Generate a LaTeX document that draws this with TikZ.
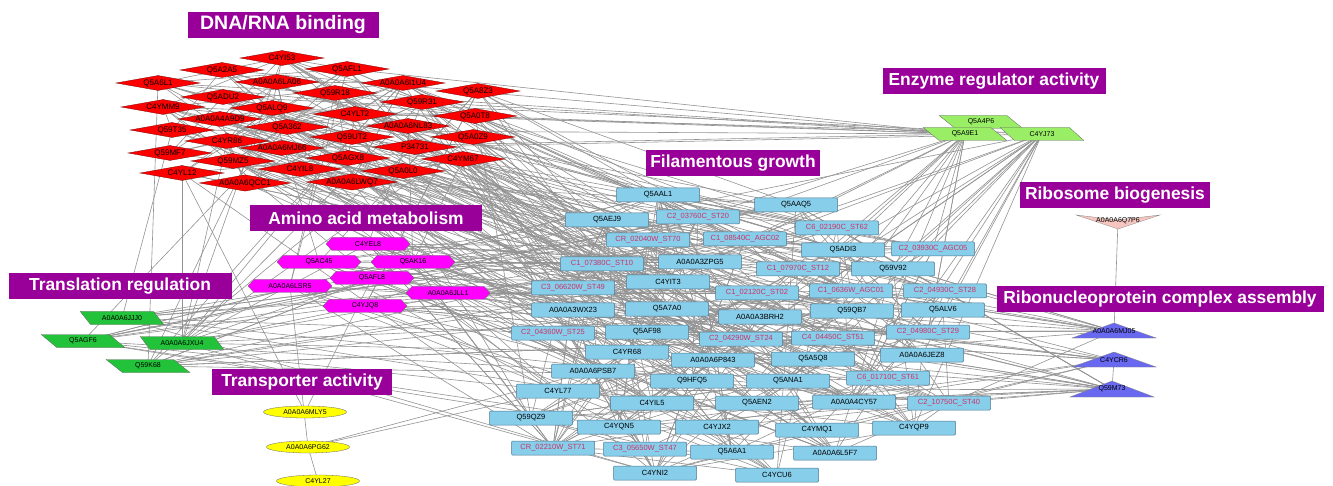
\documentclass[tikz,border=0pt]{standalone}
\usepackage{fontspec}
\setmainfont{Liberation Sans}
\usetikzlibrary{shapes.geometric,shapes.symbols}
\pgfdeclarelayer{back}
\pgfdeclarelayer{bg}
\pgfsetlayers{back,bg,main}
\definecolor{ttlc}{HTML}{990099}
\definecolor{skyb}{HTML}{87CEEB}
\definecolor{bxd}{HTML}{4F7890}
\definecolor{crim}{HTML}{CC3366}
\definecolor{grn}{HTML}{22C33A}
\definecolor{lgrn}{HTML}{99EE66}
\definecolor{mag}{HTML}{FF00FF}
\definecolor{yel}{HTML}{FFFF00}
\definecolor{vio}{HTML}{6868F0}
\definecolor{pnk}{HTML}{F5C6C0}
\definecolor{edg}{HTML}{939393}
\tikzset{
 edge/.style={draw=edg, line width=0.6pt},
 ttl/.style={fill=ttlc, text=white, font=\fontsize{17.4}{20}\selectfont\bfseries, minimum height=26pt, inner sep=0pt},
 rd/.style={diamond, aspect=5.6, fill=red, draw=red!45!black, line width=0.3pt, minimum width=84pt, minimum height=15pt, inner sep=0pt, font=\fontsize{8}{9}\selectfont},
 mg/.style={signal, signal to=east and west, signal pointer angle=95, fill=mag, draw=black!60, line width=0.3pt, minimum width=84pt, minimum height=13pt, inner sep=0pt, font=\fontsize{7}{8}\selectfont},
 para/.style={trapezium, trapezium left angle=143, trapezium right angle=37, trapezium stretches=true, draw=black!60, line width=0.3pt, minimum width=84pt, minimum height=13pt, inner sep=0pt, font=\fontsize{7}{8}\selectfont},
 gr/.style={para, fill=grn},
 lg/.style={para, fill=lgrn},
 yl/.style={ellipse, fill=yel, draw=black!60, line width=0.3pt, minimum width=83pt, minimum height=12pt, inner sep=0pt, font=\fontsize{7}{8}\selectfont},
 bx/.style={rectangle, rounded corners=1pt, fill=skyb, draw=bxd, line width=0.5pt, minimum width=83pt, minimum height=14pt, inner sep=0pt, font=\fontsize{7.5}{9}\selectfont},
 tri/.style={fill=vio, draw=black!50, line width=0.3pt},
 vee/.style={fill=pnk, draw=black!50, line width=0.3pt},
 lbl/.style={inner sep=0pt, font=\fontsize{7}{8}\selectfont}
}
\begin{document}
\begin{tikzpicture}[x=1pt,y=-1pt]
\useasboundingbox (0,0) rectangle (1333,486);
\begin{pgfonlayer}{back}
\fill[white] (0,0) rectangle (1333,486);
\end{pgfonlayer}

% ---- red diamonds (DNA/RNA binding)
\foreach \n/\x/\y/\t in {r1/282/58/C4YI53, r2/222/70/Q5A2A5, r3/347/69/Q5AFL1, r4/158/83/Q5A6L1, r5/277/82/A0A0A6LA06, r6/403/83/A0A0A6I1U4, r7/223/97/Q5ADU2, r8/335/93/Q59R18, r9/478/91/Q5A8Z3, r10/163/107/C4YMM9, r11/272/108/Q5ALQ9, r12/422/102/Q59R31, r13/220/119/A0A0A4A9D9, r14/355/114/C4YLT2, r15/475/116/Q5A0T8, r16/172/130/Q59T35, r17/287/127/Q5A362, r18/408/126/A0A0A6NL83, r19/227/141/C4YR86, r20/352/137/Q59UT2, r21/473/137/Q5A0Z9, r22/170/153/Q59MF7, r23/282/148/A0A0A6MJ66, r24/415/147/P34731, r25/233/161/Q59MZ5, r26/348/158/Q5AGX8, r27/463/159/C4YM67, r28/182/173/C4YL12, r29/300/169/C4YIL8, r30/403/171/Q5A0L0, r31/245/183/A0A0A6QCC1, r32/352/182/A0A0A6LWQ7}
  \node[rd] (\n) at (\x,\y) {\t};

% ---- magenta hexagons (Amino acid metabolism)
\foreach \n/\x/\y/\t in {m1/368/244/C4YEL8, m2/319/262/Q5AC45, m3/413/262/Q5AK16, m4/372/278/Q5AFL8, m5/290/286/A0A0A6LSR5, m6/448/293/A0A0A6JLL1, m7/365/306/C4YJQ8}
  \node[mg] (\n) at (\x,\y) {\t};

% ---- green parallelograms (Translation regulation)
\foreach \n/\x/\y/\t in {g1/122/318/A0A0A6JJJ0, g2/83/341/Q5AGF6, g3/182/343/A0A0A6JXU4, g4/148/366/Q59K68}
  \node[gr] (\n) at (\x,\y) {\t};

% ---- yellow ellipses (Transporter activity)
\foreach \n/\x/\y/\t in {y1/305/412/A0A0A6MLY5, y2/308/447/A0A0A6PG62, y3/318/481/C4YL27}
  \node[yl] (\n) at (\x,\y) {\t};

% ---- light green parallelograms (Enzyme regulator activity)
\node[lg] (e1) at (981,122) {Q5A4P6};
\node[lg] (e2) at (965,134) {Q5A9E1};
\node[lg] (e3) at (1042,134) {C4YJ73};

% ---- ribosome biogenesis (vee)
\path[vee] (1076,215) -- (1118,220) -- (1160,215) -- (1118,229) -- cycle;
\node[lbl] (p1) at (1118,221) {A0A0A6Q7P6};

% ---- ribonucleoprotein complex assembly (triangles)
\path[tri] (1072,338) -- (1114,323) -- (1156,338) -- cycle;
\node[lbl] (t1) at (1114,331) {A0A0A6MJ05};
\path[tri] (1072,367) -- (1114,352) -- (1156,367) -- cycle;
\node[lbl] (t2) at (1114,360) {C4YCR6};
\path[tri] (1070,397) -- (1112,381) -- (1154,397) -- cycle;
\node[lbl] (t3) at (1112,389) {Q59M73};

% ---- blue boxes (Filamentous growth)
\foreach \n/\x/\y/\t/\c in {b1/658/195/Q5AAL1/black, b2/796/205/Q5AAQ5/black, b3/607/220/Q5AEJ9/black, b4/698/217/C2\_03760C\_ST20/crim, b5/837/228/C6\_02190C\_ST62/crim, b6/648/240/CR\_02040W\_ST70/crim, b7/745/239/C1\_08540C\_AGC02/crim, b8/843/250/Q5ADI3/black, b9/933/249/C2\_03930C\_AGC05/crim, b10/602/264/C1\_07380C\_ST10/crim, b11/700/262/A0A0A3ZPG5/black, b12/798/269/C1\_07970C\_ST12/crim, b13/893/269/Q59V92/black, b14/573/288/C3\_06620W\_ST49/crim, b15/668/282/C4YIT3/black, b16/757/293/C1\_02120C\_ST02/crim, b17/851/291/C1\_0636W\_AGC01/crim, b18/945/291/C2\_04930C\_ST28/crim, b19/573/310/A0A0A3WX23/black, b20/667/309/Q5A7A0/black, b21/760/317/A0A0A3BRH2/black, b22/852/311/Q59QB7/black, b23/943/310/Q5ALV6/black, b24/553/333/C2\_04360W\_ST25/crim, b25/647/332/Q5AF98/black, b26/741/339/C2\_04290W\_ST24/crim, b27/833/338/C4\_04450C\_ST51/crim, b28/928/332/C2\_04980C\_ST29/crim, b29/627/352/C4YR68/black, b30/713/360/A0A0A6P843/black, b31/813/359/Q5A5Q8/black, b32/922/355/A0A0A6JEZ8/black, b33/593/371/A0A0A6PSB7/black, b34/692/381/Q9HFQ5/black, b35/788/381/Q5ANA1/black, b36/888/378/C6\_01710C\_ST61/crim, b37/558/391/C4YL77/black, b38/652/403/C4YIL5/black, b39/757/403/Q5AEN2/black, b40/854/402/A0A0A4CY57/black, b41/949/403/C2\_10750C\_ST40/crim, b42/531/418/Q59QZ9/black, b43/619/427/C4YQN5/black, b44/717/427/C4YJX2/black, b45/817/430/C4YMQ1/black, b46/914/428/C4YQP9/black, b47/553/448/CR\_02210W\_ST71/crim, b48/645/449/C3\_05650W\_ST47/crim, b49/732/452/Q5A6A1/black, b50/835/453/A0A0A6L5F7/black, b51/655/473/C4YNI2/black, b52/777/475/C4YCU6/black}
  \node[bx, text=\c] (\n) at (\x,\y) {\t};

% ---- titles
\node[ttl, minimum width=191pt, font=\fontsize{19.5}{22}\selectfont\bfseries] (tdna) at (283,25) {DNA/RNA binding};
\node[ttl, minimum width=232pt] (tamino) at (366,218) {Amino acid metabolism};
\node[ttl, minimum width=223pt] (ttrans) at (120,286) {Translation regulation};
\node[ttl, minimum width=180pt] (ttransp) at (302,382) {Transporter activity};
\node[ttl, minimum width=174pt] (tfil) at (733,163) {Filamentous growth};
\node[ttl, minimum width=223pt] (tenz) at (994,81) {Enzyme regulator activity};
\node[ttl, minimum width=190pt] (tribo) at (1115,195) {Ribosome biogenesis};
\node[ttl, minimum width=327pt] (trnp) at (1160,299) {Ribonucleoprotein complex assembly};

% ---- connectors
\begin{pgfonlayer}{bg}
\pgfmathsetseed{42}
\foreach \i in {1,...,70}{\pgfmathrandominteger{\qa}{1}{32}\pgfmathrandominteger{\qb}{1}{32}\draw[edge] (r\qa.center)--(r\qb.center);}
\foreach \i in {1,...,130}{\pgfmathrandominteger{\qa}{1}{32}\pgfmathrandominteger{\qb}{1}{52}\draw[edge] (r\qa.center)--(b\qb.center);}
\foreach \i in {1,...,14}{\pgfmathrandominteger{\qa}{1}{32}\pgfmathrandominteger{\qb}{1}{7}\draw[edge] (r\qa.center)--(m\qb.center);}
\foreach \i in {1,...,12}{\pgfmathrandominteger{\qa}{1}{32}\pgfmathrandominteger{\qb}{1}{4}\draw[edge] (r\qa.center)--(g\qb.center);}
\foreach \i in {1,...,55}{\pgfmathrandominteger{\qa}{1}{7}\pgfmathrandominteger{\qb}{1}{52}\draw[edge] (m\qa.center)--(b\qb.center);}
\foreach \i in {1,...,30}{\pgfmathrandominteger{\qa}{1}{4}\pgfmathrandominteger{\qb}{1}{52}\draw[edge] (g\qa.center)--(b\qb.center);}
\foreach \i in {1,...,6}{\pgfmathrandominteger{\qa}{1}{4}\pgfmathrandominteger{\qb}{1}{7}\draw[edge] (g\qa.center)--(m\qb.center);}
\foreach \i in {1,...,170}{\pgfmathrandominteger{\qa}{1}{52}\pgfmathrandominteger{\qb}{1}{52}\draw[edge] (b\qa.center)--(b\qb.center);}
\foreach \i in {1,...,14}{\pgfmathrandominteger{\qb}{1}{52}\draw[edge] (e2.center)--(b\qb.center);}
\foreach \i in {1,...,16}{\pgfmathrandominteger{\qb}{1}{52}\draw[edge] (e3.center)--(b\qb.center);}
\foreach \i in {1,...,8}{\pgfmathrandominteger{\qb}{1}{32}\draw[edge] (e2.center)--(r\qb.center);}
\foreach \i in {1,...,3}{\pgfmathrandominteger{\qb}{1}{32}\draw[edge] (e3.center)--(r\qb.center);}
\foreach \i in {1,...,36}{\pgfmathrandominteger{\qa}{1}{3}\pgfmathrandominteger{\qb}{1}{52}\draw[edge] (t\qa.center)--(b\qb.center);}
\foreach \i in {1,...,6}{\pgfmathrandominteger{\qa}{1}{3}\pgfmathrandominteger{\qb}{1}{7}\draw[edge] (t\qa.center)--(m\qb.center);}
\draw[edge] (e1.center)--(e2.center);
\draw[edge] (p1.center)--(t1.center);
\draw[edge] (t2.center)--(t3.center);
\draw[edge] (y1.center)--(r28.center);
\draw[edge] (y1.center)--(m4.center);
\draw[edge] (y2.center)--(m5.center);
\draw[edge] (y2.center)--(y3.center);
\draw[edge] (y2.center)--(b37.center);
\draw[edge] (y2.center)--(b33.center);
\end{pgfonlayer}
\end{tikzpicture}
\end{document}
